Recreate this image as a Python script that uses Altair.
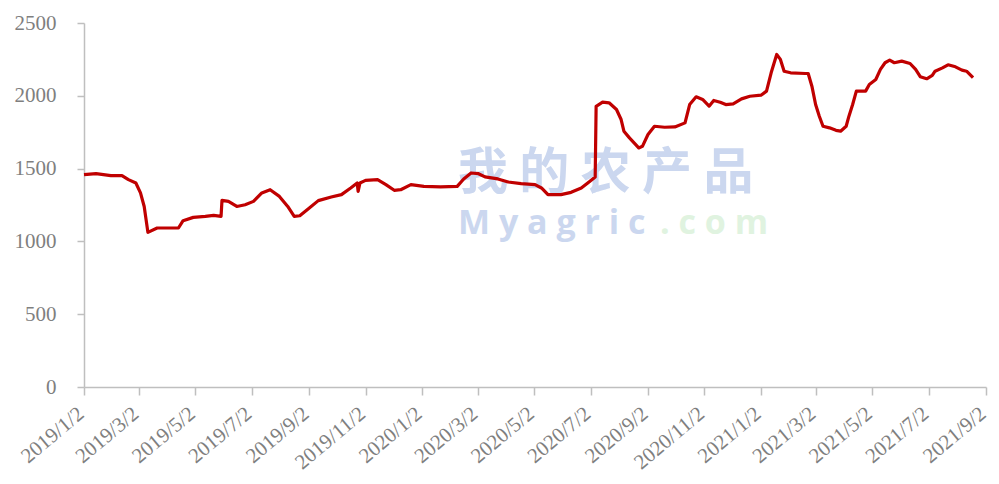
import altair as alt
import pandas as pd

dates = ["2019-01-02","2019-01-15","2019-01-31","2019-02-12","2019-02-19","2019-02-27","2019-03-04","2019-03-08","2019-03-12","2019-03-22",
         "2019-04-03","2019-04-14","2019-04-19","2019-04-30","2019-05-13","2019-05-22","2019-05-30","2019-05-31","2019-06-07","2019-06-16",
         "2019-06-25","2019-07-04","2019-07-13","2019-07-22","2019-08-01","2019-08-10","2019-08-17","2019-08-23","2019-09-01","2019-09-12",
         "2019-09-26","2019-10-07","2019-10-17","2019-10-24","2019-10-25","2019-10-27","2019-11-02","2019-11-15","2019-11-24","2019-12-03",
         "2019-12-10","2019-12-21","2020-01-04","2020-01-22","2020-02-09","2020-02-16","2020-02-24","2020-03-03","2020-03-10","2020-03-24",
         "2020-04-04","2020-04-18","2020-05-03","2020-05-10","2020-05-17","2020-05-31","2020-06-11","2020-06-22","2020-07-01","2020-07-07",
         "2020-07-08","2020-07-15","2020-07-22","2020-07-30","2020-08-04","2020-08-07","2020-08-13","2020-08-18","2020-08-23","2020-08-27",
         "2020-09-02","2020-09-09","2020-09-20","2020-10-01","2020-10-12","2020-10-17","2020-10-24","2020-10-31","2020-11-07","2020-11-12",
         "2020-11-19","2020-11-25","2020-12-03","2020-12-12","2020-12-21","2021-01-02","2021-01-08","2021-01-13","2021-01-19","2021-01-23",
         "2021-01-27","2021-02-03","2021-02-19","2021-02-22","2021-02-26","2021-03-02","2021-03-06","2021-03-10","2021-03-17","2021-03-24",
         "2021-03-29","2021-04-04","2021-04-07","2021-04-11","2021-04-15","2021-04-25","2021-04-29","2021-05-06","2021-05-11","2021-05-16",
         "2021-05-21","2021-05-26","2021-06-03","2021-06-12","2021-06-18","2021-06-23","2021-06-30","2021-07-06","2021-07-09","2021-07-17",
         "2021-07-23","2021-07-31","2021-08-07","2021-08-12","2021-08-19"]

values = [1458,1465,1452,1452,1424,1401,1333,1240,1062,1092,
          1092,1092,1142,1165,1172,1179,1172,1282,1275,1240,
          1252,1275,1333,1355,1309,1240,1172,1176,1222,1280,
          1305,1321,1367,1401,1344,1401,1419,1424,1390,1351,
          1355,1390,1378,1374,1378,1429,1470,1465,1443,1429,
          1408,1397,1390,1367,1321,1321,1337,1367,1412,1443,
          1928,1956,1952,1906,1837,1757,1711,1677,1642,1653,
          1734,1791,1784,1786,1814,1940,1993,1975,1929,1968,
          1956,1940,1945,1979,1997,2004,2032,2158,2284,2250,
          2169,2158,2153,2153,2066,1940,1860,1791,1780,1763,
          1757,1791,1860,1940,2032,2032,2078,2112,2181,2227,
          2245,2227,2238,2222,2181,2131,2117,2140,2169,2192,
          2213,2199,2176,2169,2124]

tick_dates = [(2019,1),(2019,3),(2019,5),(2019,7),(2019,9),(2019,11),
              (2020,1),(2020,3),(2020,5),(2020,7),(2020,9),(2020,11),
              (2021,1),(2021,3),(2021,5),(2021,7),(2021,9)]
y_ticks = [0, 500, 1000, 1500, 2000, 2500]

watermark_cn = "我 的 农 产 品"
watermark_en = "M y a g r i c"
watermark_com = ". c o m"

df = pd.DataFrame({"date": [d + "T00:00:00" for d in dates], "value": values})

x_vals = [alt.DateTime(year=y, month=m, date=2) for y, m in tick_dates]

line = alt.Chart(df).mark_line(color="#c00000", strokeWidth=3.2, strokeJoin="round").encode(
    x=alt.X("date:T",
            scale=alt.Scale(domain=[alt.DateTime(year=2019, month=1, date=2),
                                    alt.DateTime(year=2021, month=9, date=2)], nice=False),
            axis=alt.Axis(values=x_vals, format="%Y/%-m/%-d", formatType="time",
                          labelAngle=-40, labelAlign="right", labelBaseline="middle",
                          labelPadding=16, labelOffset=-3, tickSize=8, title=None, grid=False,
                          labelOverlap=False, labelBound=False, labelFlush=False)),
    y=alt.Y("value:Q",
            scale=alt.Scale(domain=[0, 2500], nice=False),
            axis=alt.Axis(values=y_ticks, format="d", tickSize=7, labelPadding=21,
                          title=None, grid=False)),
)

wm1 = alt.Chart(pd.DataFrame({"t": [watermark_cn]})).mark_text(
    font="Noto Sans CJK SC", fontSize=50, fontWeight="bold", color="#cbd7ef",
    align="left", baseline="middle").encode(
    text="t:N", x=alt.value(374), y=alt.value(151))
wm2 = alt.Chart(pd.DataFrame({"t": [watermark_en]})).mark_text(
    font="Open Sans", fontSize=34, fontWeight="bold", color="#cbd7ef",
    align="left", baseline="alphabetic").encode(
    text="t:N", x=alt.value(374), y=alt.value(211))
wm3 = alt.Chart(pd.DataFrame({"t": [watermark_com]})).mark_text(
    font="Open Sans", fontSize=34, fontWeight="bold", color="#e0f3e0",
    align="left", baseline="alphabetic").encode(
    text="t:N", x=alt.value(576), y=alt.value(211))

chart = alt.layer(wm1, wm2, wm3, line).properties(
    width=902, height=364,
    autosize=alt.AutoSizeParams(type="none"),
    padding={"left": 76, "top": 15, "right": 5, "bottom": 87},
).configure_view(stroke=None).configure_axis(
    labelFont="Liberation Serif", labelFontSize=21, labelColor="#7f7f7f",
    domainColor="#bfbfbf", domainWidth=1.5, tickColor="#bfbfbf", tickWidth=1.5,
)

chart.save("out.html", embed_options={"renderer": "svg", "actions": False})
